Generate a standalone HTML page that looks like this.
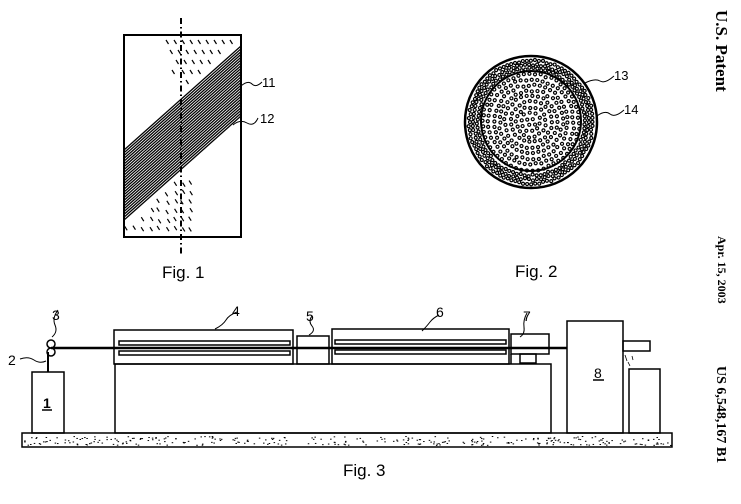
<!DOCTYPE html>
<html><head><meta charset="utf-8"><style>
html,body{margin:0;padding:0;background:#fff;}
svg{display:block;}
text{font-family:"Liberation Sans",sans-serif;fill:#000;}
.s{font-family:"Liberation Serif",serif;font-weight:bold;}
</style></head><body>
<svg id="s" width="741" height="504" viewBox="0 0 741 504" xmlns="http://www.w3.org/2000/svg">
<defs><clipPath id="c1"><rect x="124" y="35" width="117" height="202"/></clipPath></defs>
<g id="hatch" clip-path="url(#c1)" stroke="#000"></g>
<g stroke="#000" stroke-width="1.2">
<path d="M166 40 l2.5 4 M174 40 l2.5 4 M182 40 l2.5 4 M190 40 l2.5 4 M198 40 l2.5 4 M206 40 l2.5 4 M214 40 l2.5 4 M222 40 l2.5 4 M230 40 l2.5 4
M170 50 l2.5 4 M178 50 l2.5 4 M186 50 l2.5 4 M194 50 l2.5 4 M202 50 l2.5 4 M210 50 l2.5 4 M218 50 l2.5 4
M176 60 l2.5 4 M184 60 l2.5 4 M192 60 l2.5 4 M200 60 l2.5 4 M208 60 l2.5 4
M182 70 l2.5 4 M190 70 l2.5 4 M198 70 l2.5 4 M172 70 l2.5 4
M186 80 l2.5 4"/>
</g>
<rect x="124" y="35" width="117" height="202" fill="none" stroke="#000" stroke-width="2"/>
<line x1="181" y1="18" x2="181" y2="254" stroke="#000" stroke-width="2" stroke-dasharray="6,3,1.5,3"/>
<path d="M241 86 Q248 80 252 84 T262 82" fill="none" stroke="#000"/>
<text x="262" y="87" font-size="13">11</text>
<path d="M233 125 Q240 119 247 123 T258 118" fill="none" stroke="#000"/>
<text x="260" y="123" font-size="13">12</text>
<text x="162" y="278" font-size="17">Fig. 1</text>
<g id="dots"></g>
<circle cx="531" cy="122" r="66" fill="none" stroke="#000" stroke-width="2.5"/>
<circle cx="531" cy="121" r="50" fill="none" stroke="#000" stroke-width="2"/>
<path d="M585 83 Q595 78 600 81 T614 76" fill="none" stroke="#000"/>
<text x="614" y="80" font-size="13">13</text>
<path d="M597 116 Q605 110 610 114 T624 110" fill="none" stroke="#000"/>
<text x="624" y="114" font-size="13">14</text>
<text x="515" y="277" font-size="17">Fig. 2</text>
<g fill="none" stroke="#000" stroke-width="1.5">
<rect x="22" y="433" width="650" height="14" fill="#fff"/>
<rect x="32" y="372" width="32" height="61"/>
<rect x="115" y="364" width="436" height="69"/>
<rect x="114" y="330" width="179" height="34"/>
<rect x="119" y="341" width="171" height="4"/>
<rect x="119" y="351" width="171" height="4"/>
<rect x="297" y="336" width="32" height="28"/>
<rect x="332" y="329" width="177" height="35"/>
<rect x="335" y="340" width="171" height="4"/>
<rect x="335" y="350" width="171" height="4"/>
<rect x="511" y="334" width="38" height="20"/>
<rect x="520" y="354" width="16" height="9"/>
<line x1="511" y1="354" x2="511" y2="364"/>
<rect x="567" y="321" width="56" height="112"/>
<rect x="623" y="341" width="27" height="10"/>
<rect x="629" y="369" width="31" height="64"/>
<line x1="48" y1="372" x2="48" y2="352" stroke-width="2"/>
<circle cx="51" cy="344" r="4"/><circle cx="51" cy="352" r="4"/>
</g>
<line x1="51" y1="348" x2="567" y2="348" stroke="#000" stroke-width="2.5"/>
<g id="sand"></g>
<path d="M625 355 l2 6 M632 356 l1 4 M628 362 l2 4" stroke="#000" stroke-width="0.8"/>
<g fill="none" stroke="#000">
<path d="M20 359 Q28 356 34 360 T46 361"/>
<path d="M58 310 Q52 318 55 325 T52 337"/>
<path d="M237 312 Q229 315 226 320 T215 329"/>
<path d="M312 316 Q308 321 312 326 T309 335"/>
<path d="M439 315 Q433 318 430 322 T422 331"/>
<path d="M527 313 Q523 320 524 327 T520 337"/>
</g>
<g font-size="14">
<text x="8" y="365">2</text><text x="52" y="320">3</text><text x="232" y="316">4</text><text x="306" y="321">5</text><text x="436" y="317">6</text><text x="523" y="321">7</text>
<text x="43" y="408" font-weight="bold">1</text><text x="594" y="378">8</text>
</g>
<line x1="42" y1="410" x2="52" y2="410" stroke="#000" stroke-width="1.5"/>
<line x1="593" y1="380" x2="604" y2="380" stroke="#000" stroke-width="1.5"/>
<text x="343" y="476" font-size="17">Fig. 3</text>
<text class="s" font-size="17" transform="translate(716,10) rotate(90)">U.S. Patent</text>
<text class="s" font-size="12" font-weight="normal" transform="translate(718,236) rotate(90)">Apr. 15, 2003</text>
<text class="s" font-size="14" transform="translate(717,366) rotate(90)">US 6,548,167 B1</text>
</svg>
<script>
var NS="http://www.w3.org/2000/svg";
function el(p,t,a){var e=document.createElementNS(NS,t);for(var k in a)e.setAttribute(k,a[k]);document.getElementById(p).appendChild(e);}
var seed=7;function r(){seed=(seed*16807)%2147483647;return seed/2147483647;}
for(var i=0;i<26;i++){var o=i*2.8;el("hatch","line",{x1:241,y1:46+o,x2:124,y2:150+o,"stroke-width":1.3});}
for(var gx=126;gx<241;gx+=8){for(var gy=38;gy<236;gy+=9){var x=gx+(r()-.5)*3,y=gy+(r()-.5)*3;
 var bot=118+(241-x)*104/117;
 if(y>bot+4&&x<190) el("hatch","line",{x1:x,y1:y,x2:x+2.5,y2:y+4,"stroke-width":1.2});}}
for(var ring=4;ring<=64;ring+=(ring>50?4:5.5)){var n=Math.floor(2*Math.PI*ring/(ring>50?4:5.5));var off=r()*6;
 for(var j=0;j<n;j++){var a=off+j*6.283/n,d=ring+(r()-.5)*2;
 el("dots","circle",{cx:531+d*Math.cos(a),cy:122+d*Math.sin(a),r:1.5,fill:"none",stroke:"#000","stroke-width":1.2});}}
for(var i=0;i<300;i++){el("sand","rect",{x:24+r()*646,y:436+r()*9,width:1.5,height:1,fill:"#000"});}
</script>
</body></html>
